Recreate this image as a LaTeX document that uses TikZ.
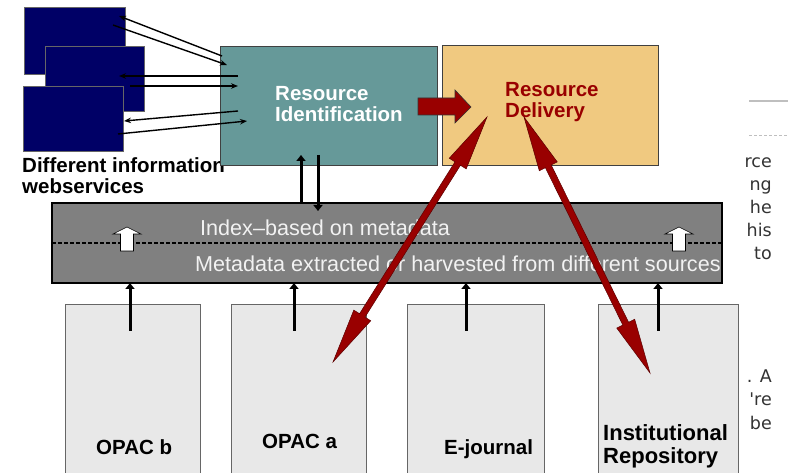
\documentclass[tikz,border=0pt]{standalone}
\usepackage{fontspec}
\setmainfont{Liberation Sans}
\newfontfamily\djv{DejaVu Sans}
\usetikzlibrary{arrows.meta,calc}
\definecolor{navy}{RGB}{0,0,102}
\definecolor{tealbox}{RGB}{102,153,153}
\definecolor{sand}{RGB}{240,201,128}
\definecolor{dred}{RGB}{153,0,0}
\definecolor{bandgray}{RGB}{128,128,128}
\definecolor{boxgray}{RGB}{232,232,232}
\newcommand{\redarr}[2]{%
  \filldraw[fill=dred, draw=dred!60!black, line width=0.5pt]
    (#1) -- ($(#1)!55pt!(#2)!10pt!90:(#2)$) -- ($(#1)!55pt!(#2)!3.2pt!90:(#2)$)
    -- ($(#2)!55pt!(#1)!3.2pt!-90:(#1)$) -- ($(#2)!55pt!(#1)!10pt!-90:(#1)$)
    -- (#2) -- ($(#2)!55pt!(#1)!10pt!90:(#1)$) -- ($(#2)!55pt!(#1)!3.2pt!90:(#1)$)
    -- ($(#1)!55pt!(#2)!3.2pt!-90:(#2)$) -- ($(#1)!55pt!(#2)!10pt!-90:(#2)$) -- cycle;}
\newcommand{\whiteup}[1]{%
  \filldraw[fill=white, draw=black, line width=0.6pt]
    ($(#1)+(-6.5,24)$) -- ($(#1)+(-6.5,7)$) -- ($(#1)+(-14,7)$) -- (#1)
    -- ($(#1)+(14,7)$) -- ($(#1)+(6.5,7)$) -- ($(#1)+(6.5,24)$) -- cycle;}
\begin{document}
\begin{tikzpicture}[x=1pt,y=-1pt,
  webbox/.style={draw=black!60, fill=navy, line width=0.6pt, anchor=north west, inner sep=0pt, outer sep=0pt},
  bigbox/.style={draw=black!75, line width=0.8pt, anchor=north west, inner sep=0pt, outer sep=0pt},
  srcbox/.style={draw=black!60, fill=boxgray, line width=0.8pt, anchor=north west, inner sep=0pt, outer sep=0pt, minimum height=180pt},
  lbl/.style={anchor=base west, inner sep=0pt, font=\fontsize{20.5}{20.5}\selectfont\bfseries},
  bandtxt/.style={anchor=base west, inner sep=0pt, text=white!95!black, font=\fontsize{21.6}{21.6}\selectfont},
  thinarr/.style={line width=1.4pt, -{Stealth[length=7pt,width=5.5pt]}},
  thickarr/.style={line width=3pt, -{Triangle[length=6pt,width=9pt]}},
  frag/.style={anchor=base east, inner sep=0pt, text=black!80, font=\djv\fontsize{17.5}{17.5}\selectfont},
]
\useasboundingbox (0,0) rectangle (788,473);
\clip (0,0) rectangle (788,473);
\fill[white] (0,0) rectangle (788,473);

% web service boxes
\node[webbox, minimum width=101pt, minimum height=67pt] (w1) at (24,7) {};
\node[webbox, minimum width=99pt, minimum height=65pt] (w2) at (45,46) {};
\node[webbox, minimum width=100pt, minimum height=65pt] (w3) at (23,86) {};
\node[lbl] (tdiff) at (22,173) {Different information};
\node[lbl] (tweb) at (22,194) {webservices};

% main boxes
\node[bigbox, fill=tealbox, minimum width=217pt, minimum height=119pt] (ri) at (220,46) {};
\node[bigbox, fill=sand, minimum width=216pt, minimum height=120pt] (rd) at (442,45) {};
\node[lbl, text=white] (ri1) at (275,101) {Resource};
\node[lbl, text=white] (ri2) at (275,122) {Identification};
\node[lbl, text=dred] (rd1) at (505,97) {Resource};
\node[lbl, text=dred] (rd2) at (505,118) {Delivery};

% block arrow RI -> RD
\filldraw[fill=dred, draw=black!80, line width=0.6pt]
  (418,98) -- (455,98) -- (455,90) -- (471,107) -- (455,123) -- (455,115) -- (418,115) -- cycle;

% connectors between web services and RI
\coordinate (a1s) at (222,56);  \coordinate (a1e) at (119,16);
\coordinate (a2s) at (113,25);  \coordinate (a2e) at (227,65);
\coordinate (a3s) at (238,76);  \coordinate (a3e) at (119,76);
\coordinate (a4s) at (130,86);  \coordinate (a4e) at (238,86);
\coordinate (a5s) at (238,111); \coordinate (a5e) at (124,121);
\coordinate (a6s) at (118,134); \coordinate (a6e) at (247,121);
\foreach \i in {1,...,6} {\draw[thinarr] (a\i s) -- (a\i e);}

% index band
\node[bigbox, fill=bandgray, draw=black, line width=2.5pt, minimum width=670pt, minimum height=80pt] (band) at (52,203) {};
\draw[black, line width=1.2pt, dash pattern=on 4pt off 2pt] (band.west) -- (band.east);
\node[bandtxt] (idx) at (200,236) {Index–based on metadata};
\node[bandtxt] (meta) at (195,272) {Metadata extracted or harvested from different sources};
\coordinate (wa1) at (127,227);
\coordinate (wa2) at (679,227);
\whiteup{wa1}
\whiteup{wa2}

% arrows between RI and band
\coordinate (v1) at (301,155);
\coordinate (v2) at (318,155);
\coordinate (v2e) at (318,211);
\draw[thickarr] (band.north -| v1) -- (v1);
\draw[thickarr] (v2) -- (v2e);

% source boxes
\node[srcbox, minimum width=135pt] (opacb) at (65,304) {};
\node[srcbox, minimum width=135pt] (opaca) at (231,304) {};
\node[srcbox, minimum width=137pt] (ej) at (407,304) {};
\node[srcbox, minimum width=140pt] (ir) at (598,304) {};
\node[lbl] (topacb) at (96,454) {OPAC b};
\node[lbl] (topaca) at (262,448) {OPAC a};
\node[lbl] (tej) at (444,454) {E-journal};
\node[lbl, font=\fontsize{22}{22}\selectfont\bfseries] (tir1) at (603,440) {Institutional};
\node[lbl, font=\fontsize{22}{22}\selectfont\bfseries] (tir2) at (603,463) {Repository};

\coordinate (s1) at (130,331);
\coordinate (s2) at (294,331);
\coordinate (s3) at (466,331);
\coordinate (s4) at (658,331);
\foreach \s in {s1,s2,s3,s4} {\draw[thickarr] (\s) -- (band.south -| \s);}

% red delivery arrows
\coordinate (r1a) at (487,117);
\coordinate (r1b) at (333,362);
\coordinate (r2a) at (524,117);
\coordinate (r2b) at (650,373);
\redarr{r1a}{r1b}
\redarr{r2a}{r2b}

% fragments of slide text at right
\draw[black!25, line width=1.2pt] (749,101) -- (788,101);
\draw[black!25, line width=0.8pt, dash pattern=on 3pt off 2pt] (749,135) -- (788,135);
\node[frag] (f1) at (772,168) {rce};
\node[frag] (f2) at (772,191) {ng};
\node[frag] (f3) at (772,214) {he};
\node[frag] (f4) at (772,237) {his};
\node[frag] (f5) at (772,260) {to};
\node[frag] (f6) at (772,383) {. A};
\node[frag] (f7) at (772,406) {'re};
\node[frag] (f8) at (772,429) {be};
\end{tikzpicture}
\end{document}
